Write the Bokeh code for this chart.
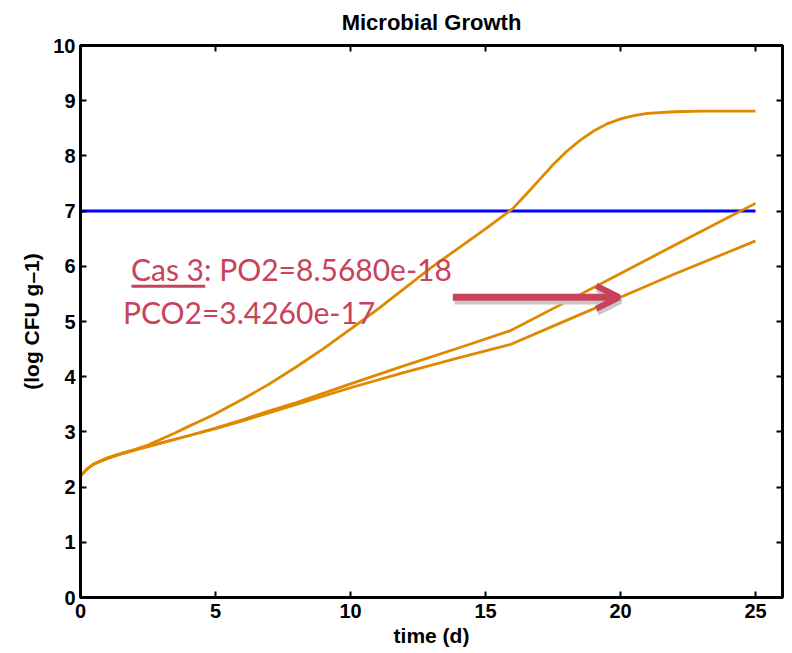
from bokeh.plotting import figure
from bokeh.models import (Range1d, FixedTicker, LinearAxis, Arrow, OpenHead)
from bokeh.embed import file_html
from bokeh.resources import INLINE
from bokeh.core.properties import value

# ---- data ----
top_t = [0, 0.25, 0.5, 1, 1.5, 2, 2.5, 3, 3.5, 4, 4.5, 5, 6, 7, 8, 9, 10, 11, 12, 13, 14, 15, 16,
         16.5, 17, 17.5, 18, 18.5, 19, 19.5, 20, 20.5, 21, 22, 23, 24, 25]
top_y = [2.2, 2.33, 2.42, 2.53, 2.61, 2.68, 2.76, 2.87, 2.98, 3.1, 3.21, 3.33, 3.59, 3.87,
         4.18, 4.51, 4.86, 5.22, 5.6, 5.98, 6.33, 6.68, 7.04,
         7.3, 7.57, 7.84, 8.08, 8.28, 8.45, 8.58, 8.67, 8.73, 8.77, 8.8, 8.81, 8.81, 8.81]

mid_t = [0, 0.25, 0.5, 1, 1.5, 2, 3, 4, 5, 6, 7, 8, 10, 12, 14, 15.9, 18, 20, 22, 24, 25]
mid_y = [2.2, 2.33, 2.42, 2.52, 2.6, 2.67, 2.8, 2.93, 3.07, 3.22, 3.38, 3.53, 3.87, 4.2,
         4.52, 4.83, 5.36, 5.87, 6.38, 6.89, 7.14]

low_t = [0, 0.25, 0.5, 1, 1.5, 2, 3, 4, 5, 6, 7, 8, 10, 12, 14, 15.9, 18, 20, 22, 24, 25]
low_y = [2.2, 2.33, 2.42, 2.52, 2.6, 2.67, 2.8, 2.93, 3.06, 3.2, 3.35, 3.5, 3.8, 4.08,
         4.34, 4.58, 5.02, 5.44, 5.86, 6.26, 6.46]

limit_t = [0, 25]
limit_y = [7, 7]

x_ticks = [0, 5, 10, 15, 20, 25]
y_ticks = [0, 1, 2, 3, 4, 5, 6, 7, 8, 9, 10]

title_text = "Microbial Growth"
x_label = "time (d)"
y_label = "(log CFU g\u20131)"
note_line1 = "Cas 3: PO2=8.5680e-18"
note_line2 = "PCO2=3.4260e-17"

# ---- styles ----
ORANGE = "#DF8800"
BLUE = "#0000FF"
NOTE = "#C8435A"
AX_FONT = "Liberation Sans"

p = figure(width=784, height=653, output_backend="svg", toolbar_location=None,
           x_range=Range1d(0, 26), y_range=Range1d(0, 10),
           min_border_left=80, min_border_right=2, min_border_top=45, min_border_bottom=56)

p.title.text = title_text
p.title.align = "center"
p.title.vertical_align = "top"
p.title.text_font = AX_FONT
p.title.text_font_size = "22px"
p.title.text_font_style = "bold"
p.title.text_color = "black"
p.title.standoff = 17

p.grid.visible = False
p.outline_line_color = "black"
p.outline_line_width = 3
p.background_fill_color = "white"
p.border_fill_color = "white"

for ax, ticks in ((p.xaxis[0], x_ticks), (p.yaxis[0], y_ticks)):
    ax.ticker = FixedTicker(ticks=ticks)
    ax.axis_line_width = 3
    ax.major_tick_in = 6
    ax.major_tick_out = 0
    ax.major_tick_line_width = 2
    ax.minor_tick_line_color = None
    ax.major_label_text_font = AX_FONT
    ax.major_label_text_font_size = "20px"
    ax.major_label_text_font_style = "bold"
    ax.major_label_text_color = "black"
    ax.axis_label_text_font = AX_FONT
    ax.axis_label_text_font_size = "21px"
    ax.axis_label_text_font_style = "bold"
    ax.axis_label_text_color = "black"

p.xaxis.axis_label = x_label
p.yaxis.axis_label = y_label
p.xaxis.major_label_standoff = 6
p.xaxis.axis_label_standoff = 3
p.yaxis.major_label_standoff = 5
p.yaxis.axis_label_standoff = 7

for loc, ticks in (("above", x_ticks), ("right", y_ticks)):
    a = LinearAxis(ticker=FixedTicker(ticks=ticks), axis_line_width=3,
                   major_tick_in=6, major_tick_out=0, major_tick_line_width=2,
                   minor_tick_line_color=None, major_label_text_font_size="0px",
                   major_label_standoff=0)
    p.add_layout(a, loc)

p.line(limit_t, limit_y, line_color=BLUE, line_width=3)
p.line(top_t, top_y, line_color=ORANGE, line_width=2.8)
p.line(mid_t, mid_y, line_color=ORANGE, line_width=2.8)
p.line(low_t, low_y, line_color=ORANGE, line_width=2.8)

# annotation text (y compensates the renderer's baseline offset)
p.text(x=[1.87], y=[5.96], text=[note_line1], text_font=value("Lato"),
       text_font_size="30px", text_color=NOTE, text_baseline="alphabetic", text_align="left")
p.text(x=[1.57], y=[5.165], text=[note_line2], text_font=value("Lato"),
       text_font_size="30px", text_color=NOTE, text_baseline="alphabetic", text_align="left")
p.segment(x0=[1.886], y0=[5.64], x1=[4.62], y1=[5.64], line_color=NOTE, line_width=3)

# arrow with shadow
p.add_layout(Arrow(x_start=13.85, y_start=5.37, x_end=20.0, y_end=5.37,
                   line_color="#c8c8c8", line_width=7,
                   end=OpenHead(size=23, line_width=6, line_color="#c8c8c8")))
p.add_layout(Arrow(x_start=13.79, y_start=5.44, x_end=19.95, y_end=5.44,
                   line_color=NOTE, line_width=7,
                   end=OpenHead(size=23, line_width=6, line_color=NOTE)))

open("out.html", "w").write(file_html(p, INLINE))
